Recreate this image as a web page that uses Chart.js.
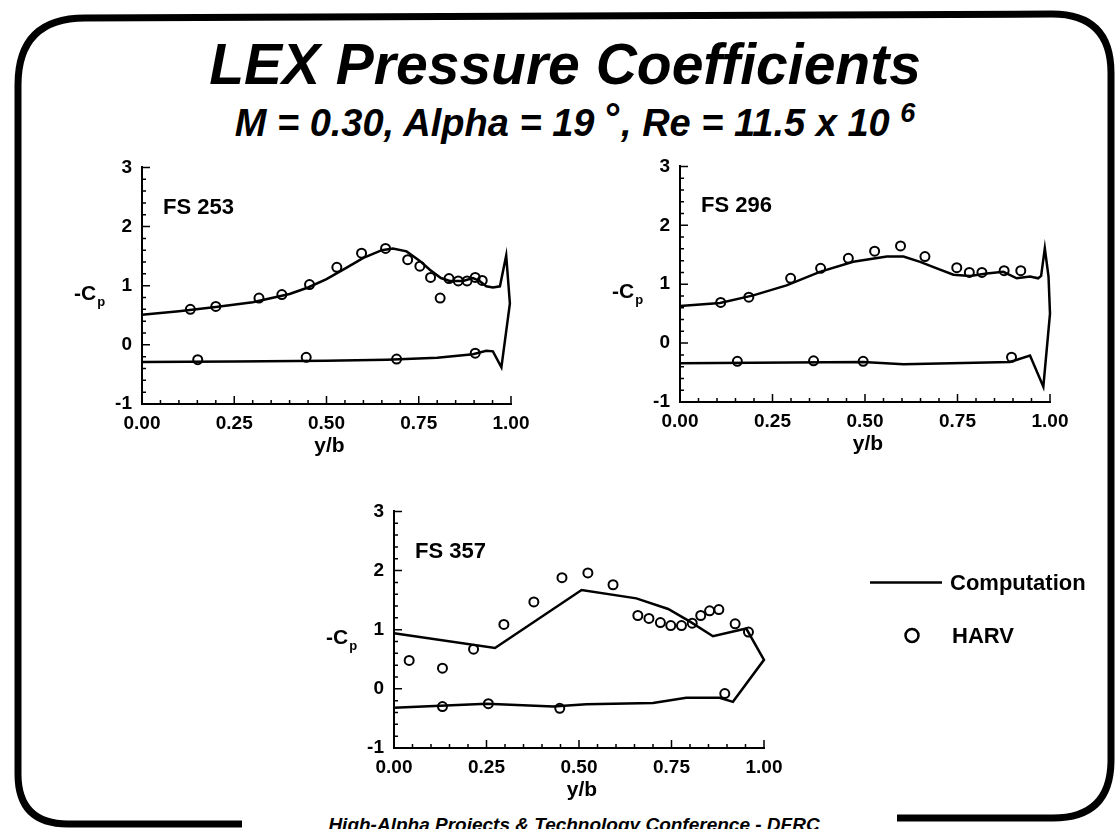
<!DOCTYPE html>
<html>
<head>
<meta charset="utf-8">
<script src="https://cdn.jsdelivr.net/npm/chart.js@4.4.0/dist/chart.umd.min.js"></script>
<style>
  body { margin:0; width:1116px; height:829px; overflow:hidden; background:#fff; position:relative; font-family:"Liberation Sans", Arial, sans-serif; }
  .txt { position:absolute; font-weight:bold; font-style:italic; color:#000; white-space:nowrap; text-align:center; }
  canvas { position:absolute; }
  svg { position:absolute; left:0; top:0; }
</style>
</head>
<body>
<svg width="1116" height="829">
  <path d="M 242 824 L 68 824 Q 18 824 18 774 L 18 85 Q 18 18 85 18 L 1052 14 Q 1111 14 1111 73 L 1111 760 Q 1111 818 1053 818 L 897 818"
        fill="none" stroke="#000" stroke-width="7"/>
</svg>

<div class="txt" style="left:0;width:1130px;top:36px;font-size:57px;line-height:57px;">LEX Pressure Coefficients</div>
<div class="txt" style="left:0;width:1150px;top:103px;font-size:38px;line-height:38px;">M = 0.30, Alpha = 19 <span style="position:relative;top:-4px;font-size:40px;font-style:normal;">°</span>, Re = 11.5 x 10 <span style="position:relative;top:-14px;font-size:27px;">6</span></div>
<div class="txt" style="left:0;width:1148px;top:815px;font-size:19px;line-height:19px;">High-Alpha Projects &amp; Technology Conference - DFRC</div>

<canvas id="fs253" width="499" height="318" style="left:42px;top:146px;"></canvas>
<canvas id="fs296" width="500" height="317" style="left:580px;top:145px;"></canvas>
<canvas id="fs357" width="806" height="318" style="left:294px;top:490px;"></canvas>

<script>
// axis ticks
const xTickLabels = ['0.00', '0.25', '0.50', '0.75', '1.00'];
const yTickLabels = ['-1', '0', '1', '2', '3'];

// FS 253 - computation (upper surface out to the tip, then lower surface back in)
const fs253CompX = [0, 0.1, 0.2, 0.3, 0.4, 0.45, 0.5, 0.55, 0.6, 0.65, 0.68, 0.717, 0.753, 0.78, 0.81, 0.834, 0.87, 0.897, 0.915, 0.933, 0.951, 0.97, 0.987, 0.997, 0.974, 0.951, 0.933, 0.897, 0.8, 0.663, 0.5, 0.25, 0];
const fs253CompY = [0.51, 0.57, 0.64, 0.72, 0.86, 0.97, 1.11, 1.29, 1.47, 1.60, 1.63, 1.58, 1.42, 1.27, 1.13, 1.08, 1.08, 1.13, 1.08, 0.99, 0.97, 0.99, 1.51, 0.70, -0.38, -0.11, -0.10, -0.16, -0.22, -0.25, -0.27, -0.28, -0.29];
const fs253HarvX = [0.131, 0.200, 0.317, 0.379, 0.454, 0.528, 0.595, 0.660, 0.720, 0.753, 0.782, 0.808, 0.832, 0.857, 0.881, 0.903, 0.922, 0.151, 0.445, 0.690, 0.903];
const fs253HarvY = [0.60, 0.65, 0.79, 0.85, 1.02, 1.31, 1.55, 1.63, 1.44, 1.33, 1.14, 0.79, 1.12, 1.08, 1.08, 1.14, 1.09, -0.25, -0.21, -0.24, -0.14];

// FS 296
const fs296CompX = [0, 0.108, 0.198, 0.288, 0.378, 0.468, 0.559, 0.604, 0.649, 0.694, 0.739, 0.784, 0.829, 0.874, 0.91, 0.946, 0.968, 0.976, 0.986, 0.996, 1.0, 0.982, 0.946, 0.892, 0.604, 0.495, 0];
const fs296CompY = [0.63, 0.68, 0.81, 0.98, 1.21, 1.38, 1.47, 1.47, 1.38, 1.27, 1.16, 1.14, 1.18, 1.21, 1.10, 1.13, 1.10, 1.14, 1.61, 1.13, 0.50, -0.74, -0.21, -0.32, -0.36, -0.32, -0.34];
const fs296HarvX = [0.110, 0.186, 0.299, 0.380, 0.455, 0.526, 0.596, 0.662, 0.748, 0.782, 0.816, 0.876, 0.921, 0.155, 0.361, 0.495, 0.896];
const fs296HarvY = [0.69, 0.78, 1.10, 1.27, 1.44, 1.56, 1.65, 1.47, 1.28, 1.20, 1.20, 1.23, 1.23, -0.31, -0.30, -0.31, -0.24];

// FS 357
const fs357CompX = [0, 0.273, 0.507, 0.655, 0.741, 0.799, 0.862, 0.952, 1.0, 0.916, 0.880, 0.790, 0.700, 0.520, 0.430, 0.250, 0];
const fs357CompY = [0.94, 0.69, 1.67, 1.53, 1.35, 1.14, 0.89, 1.02, 0.49, -0.22, -0.15, -0.15, -0.24, -0.26, -0.30, -0.25, -0.32];
const fs357HarvX = [0.041, 0.131, 0.215, 0.297, 0.378, 0.454, 0.524, 0.592, 0.659, 0.689, 0.720, 0.748, 0.777, 0.806, 0.829, 0.853, 0.878, 0.922, 0.958, 0.131, 0.255, 0.448, 0.894];
const fs357HarvY = [0.48, 0.35, 0.67, 1.09, 1.47, 1.88, 1.96, 1.76, 1.24, 1.19, 1.12, 1.07, 1.07, 1.11, 1.24, 1.32, 1.34, 1.10, 0.96, -0.30, -0.25, -0.33, -0.08];

const FONT = '"Liberation Sans", Arial, sans-serif';

function pts(xs, ys) {
  return xs.map((v, i) => ({ x: v, y: ys[i] }));
}

// inward tick marks, axis labels, station name, optional legend
const decor = {
  id: 'decor',
  afterDraw(chart, args, opts) {
    const { ctx, chartArea: a, scales: { x, y } } = chart;
    ctx.save();
    ctx.strokeStyle = '#000';
    ctx.lineWidth = 1.5;
    ctx.beginPath();
    for (let i = 0; i <= 20; i++) {
      const px = x.getPixelForValue(i * 0.05);
      const len = i % 5 === 0 ? 8 : 4;
      ctx.moveTo(px, a.bottom);
      ctx.lineTo(px, a.bottom - len);
    }
    for (let i = 0; i <= 20; i++) {
      const py = y.getPixelForValue(-1 + i * 0.2);
      const len = i % 5 === 0 ? 8 : 4;
      ctx.moveTo(a.left, py);
      ctx.lineTo(a.left + len, py);
    }
    ctx.stroke();

    ctx.fillStyle = '#000';
    ctx.textBaseline = 'alphabetic';
    ctx.textAlign = 'left';

    // -Cp
    const cy = y.getPixelForValue(0.76);
    ctx.font = 'bold 21px ' + FONT;
    ctx.fillText('-C', a.left - 68, cy);
    const w = ctx.measureText('-C').width;
    ctx.font = 'bold 13px ' + FONT;
    ctx.fillText('p', a.left - 68 + w + 1, cy + 6);

    // station
    ctx.font = 'bold 22px ' + FONT;
    ctx.fillText(opts.station, a.left + 21, y.getPixelForValue(2.22));

    // y/b
    ctx.font = 'bold 21px ' + FONT;
    ctx.textAlign = 'center';
    ctx.fillText('y/b', (a.left + a.right) / 2 + 3, a.bottom + 48);

    if (opts.legend) {
      const ds = chart.data.datasets;
      const lx = a.left + 476, ly = a.top + 71;
      ctx.strokeStyle = ds[0].borderColor;
      ctx.lineWidth = ds[0].borderWidth;
      ctx.beginPath();
      ctx.moveTo(lx, ly);
      ctx.lineTo(lx + 72, ly);
      ctx.stroke();
      ctx.textAlign = 'left';
      ctx.font = 'bold 22px ' + FONT;
      ctx.fillText(ds[0].label, lx + 80, ly + 8);
      ctx.lineWidth = 2.5;
      ctx.beginPath();
      ctx.arc(lx + 42, ly + 53, 6.5, 0, Math.PI * 2);
      ctx.stroke();
      ctx.fillText(ds[1].label, lx + 82, ly + 61);
    }
    ctx.restore();
  }
};

function makeChart(id, station, compX, compY, harvX, harvY, legend) {
  return new Chart(document.getElementById(id), {
    type: 'scatter',
    data: {
      datasets: [
        {
          label: 'Computation',
          data: pts(compX, compY),
          showLine: true,
          borderColor: '#000',
          borderWidth: 2.5,
          pointRadius: 0,
          tension: 0,
          clip: 6
        },
        {
          label: 'HARV',
          data: pts(harvX, harvY),
          showLine: false,
          pointRadius: 4.5,
          pointBorderWidth: 2,
          pointBorderColor: '#000',
          pointBackgroundColor: 'rgba(0,0,0,0)',
          clip: 6
        }
      ]
    },
    options: {
      responsive: false,
      animation: false,
      events: [],
      layout: { padding: { top: 20, right: legend ? 336 : 30, left: 0, bottom: 0 } },
      plugins: {
        legend: { display: false },
        tooltip: { enabled: false },
        decor: { station, legend }
      },
      scales: {
        x: {
          type: 'linear',
          min: 0,
          max: 1,
          afterFit: s => { s.height = 60; },
          grid: { display: true, drawOnChartArea: false, drawTicks: false },
          border: { display: true, color: '#000', width: 2 },
          ticks: {
            stepSize: 0.25,
            padding: 8,
            color: '#000',
            font: { family: FONT, size: 19, weight: 'bold' },
            callback: (v, i) => xTickLabels[i]
          }
        },
        y: {
          type: 'linear',
          min: -1,
          max: 3,
          afterFit: s => { s.width = 100; },
          grid: { display: true, drawOnChartArea: false, drawTicks: false },
          border: { display: true, color: '#000', width: 2 },
          ticks: {
            stepSize: 1,
            padding: 10,
            color: '#000',
            font: { family: FONT, size: 19, weight: 'bold' },
            callback: (v, i) => yTickLabels[i]
          }
        }
      }
    },
    plugins: [decor]
  });
}

makeChart('fs253', 'FS 253', fs253CompX, fs253CompY, fs253HarvX, fs253HarvY, false);
makeChart('fs296', 'FS 296', fs296CompX, fs296CompY, fs296HarvX, fs296HarvY, false);
makeChart('fs357', 'FS 357', fs357CompX, fs357CompY, fs357HarvX, fs357HarvY, true);
</script>
</body>
</html>
